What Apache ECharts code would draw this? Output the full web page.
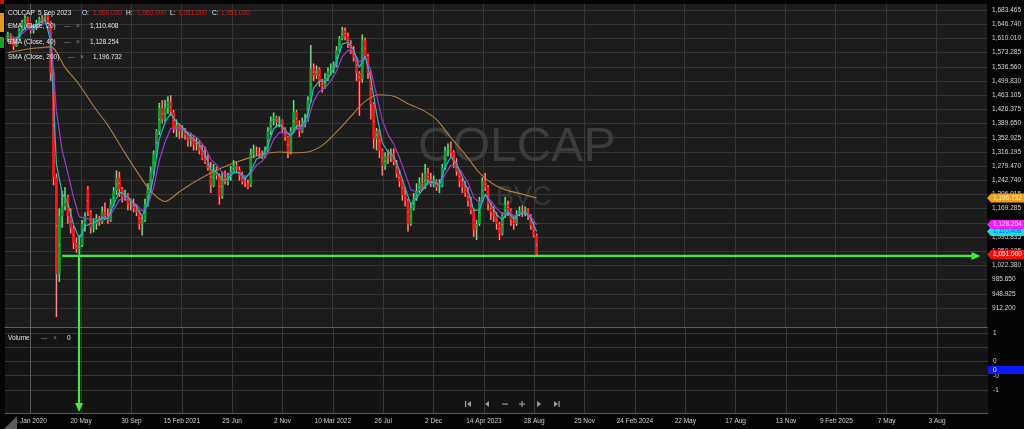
<!DOCTYPE html>
<html><head><meta charset="utf-8">
<script src="https://cdn.jsdelivr.net/npm/echarts@6/dist/echarts.min.js"></script>
<style>html,body{margin:0;padding:0;background:#050505;}#c{width:1024px;height:429px;}</style>
</head><body><div id="c"></div>
<script>
// ---- x axis: weeks relative to 1 Jan 2020 (tick spacing = ~88 bars = 17.6 weeks)
const tickWeeks = [0,17.6,35.2,52.8,70.4,88,105.6,123.2,140.8,158.4,176,193.6,211.2,228.8,246.4,264,281.6,299.2,316.8];
const tickLabels = ['1 Jan 2020','20 May','30 Sep','15 Feb 2021','25 Jun','2 Nov','10 Mar 2022','26 Jul','2 Dec','14 Apr 2023','28 Aug','25 Nov','24 Feb 2024','22 May','17 Aug','13 Nov','9 Feb 2025','7 May','3 Aug'];
const firstCandleWeek = -8;
// ---- price axis ticks
const priceTicks = [912.200,948.925,985.650,1022.380,1059.105,1095.835,1132.560,1169.285,1206.015,1242.740,1279.470,1316.195,1352.925,1389.650,1426.375,1463.105,1499.830,1536.560,1573.285,1610.010,1646.740,1683.465];
const volTicks = [1,0.5,0,-0.5,-1];
const volLabelValues = [1,0,-0.5,-1];
const volLabels = ['1','0','-0','-1'];
// ---- weekly candles
const candleOpen = [1610,1620,1605,1590,1608,1630,1652,1662,1648,1630,1640,1650,1660,1655,1670,1652,1520,1250,1000,1150,1175,1200,1150,1120,1080,1065,1075,1130,1220,1160,1120,1130,1145,1135,1160,1150,1140,1180,1215,1250,1220,1200,1205,1180,1185,1170,1160,1130,1140,1180,1220,1265,1310,1370,1430,1400,1430,1445,1420,1375,1385,1370,1375,1360,1345,1355,1335,1340,1320,1300,1290,1275,1230,1270,1255,1200,1250,1240,1250,1265,1280,1270,1255,1240,1235,1230,1310,1320,1315,1310,1305,1320,1370,1395,1405,1392,1398,1375,1355,1315,1370,1420,1385,1370,1395,1400,1450,1530,1515,1530,1500,1485,1505,1525,1530,1540,1580,1610,1630,1615,1595,1580,1560,1520,1505,1605,1565,1520,1440,1350,1370,1320,1280,1305,1300,1310,1290,1260,1240,1205,1190,1130,1170,1195,1215,1235,1225,1260,1245,1235,1240,1225,1230,1275,1320,1325,1315,1290,1265,1240,1225,1210,1190,1165,1115,1130,1190,1240,1225,1180,1160,1150,1130,1105,1150,1180,1165,1140,1130,1155,1165,1160,1165,1150,1125,1100];
const candleHigh = [1627,1623,1610,1614,1636,1658,1670,1666,1649,1645,1658,1666,1670,1675,1675,1655,1530,1260,1170,1215,1225,1205,1170,1125,1095,1100,1140,1160,1228,1165,1145,1155,1150,1175,1185,1170,1195,1225,1268,1265,1225,1218,1210,1195,1195,1180,1165,1150,1195,1235,1278,1320,1375,1443,1450,1451,1460,1463,1425,1400,1390,1385,1378,1368,1366,1360,1355,1345,1335,1330,1310,1290,1285,1278,1260,1265,1268,1262,1280,1295,1292,1278,1265,1255,1245,1325,1335,1330,1328,1320,1330,1380,1408,1418,1410,1408,1400,1380,1358,1380,1450,1425,1398,1405,1415,1460,1593,1545,1540,1535,1505,1520,1535,1545,1550,1590,1616,1640,1638,1625,1605,1590,1562,1525,1620,1612,1570,1525,1445,1378,1375,1325,1315,1322,1325,1325,1295,1270,1245,1225,1195,1185,1210,1235,1250,1262,1285,1275,1262,1255,1245,1245,1285,1330,1338,1343,1320,1300,1270,1250,1240,1225,1200,1170,1140,1200,1250,1262,1230,1185,1175,1160,1135,1160,1200,1190,1170,1150,1165,1175,1178,1175,1170,1155,1135,1105];
const candleLow = [1601,1597,1580,1588,1605,1628,1649,1640,1623,1623,1632,1645,1649,1653,1649,1500,1230,889,980,1120,1165,1130,1105,1065,1055,1050,1070,1110,1150,1105,1108,1115,1125,1130,1140,1130,1135,1175,1205,1200,1185,1190,1165,1165,1160,1150,1115,1100,1135,1175,1210,1255,1300,1360,1390,1395,1415,1410,1365,1355,1350,1352,1348,1330,1330,1320,1320,1310,1295,1285,1268,1210,1225,1245,1180,1195,1232,1230,1242,1260,1262,1242,1232,1225,1220,1225,1300,1305,1300,1298,1300,1315,1360,1385,1380,1380,1365,1345,1300,1310,1365,1375,1355,1365,1380,1395,1445,1500,1505,1485,1470,1480,1500,1515,1520,1535,1575,1605,1605,1585,1570,1550,1500,1410,1495,1555,1505,1400,1325,1320,1300,1255,1270,1285,1290,1282,1250,1225,1190,1175,1110,1125,1165,1190,1210,1215,1220,1235,1225,1225,1215,1210,1225,1270,1305,1300,1275,1255,1225,1210,1200,1175,1155,1097,1088,1125,1185,1215,1165,1140,1135,1115,1088,1100,1145,1150,1125,1115,1125,1150,1148,1150,1140,1115,1095,1048];
const candleClose = [1620,1605,1590,1608,1630,1652,1662,1648,1630,1640,1650,1660,1655,1670,1652,1520,1250,1000,1150,1175,1200,1150,1120,1080,1065,1075,1130,1150,1160,1120,1130,1145,1135,1160,1150,1140,1180,1215,1250,1220,1200,1205,1180,1185,1170,1160,1130,1140,1180,1220,1265,1310,1370,1430,1400,1430,1445,1420,1375,1385,1370,1375,1360,1345,1355,1335,1340,1320,1300,1290,1275,1230,1270,1255,1200,1250,1240,1250,1265,1280,1270,1255,1240,1235,1225,1310,1320,1315,1310,1305,1320,1370,1395,1405,1392,1398,1375,1355,1315,1370,1420,1385,1370,1395,1400,1450,1530,1515,1530,1500,1485,1505,1525,1530,1540,1580,1610,1630,1615,1595,1580,1560,1520,1500,1605,1565,1520,1440,1350,1370,1320,1280,1305,1300,1310,1290,1260,1240,1205,1190,1130,1170,1195,1215,1235,1225,1260,1245,1235,1240,1225,1230,1275,1320,1325,1315,1290,1265,1240,1225,1210,1190,1165,1115,1130,1190,1240,1225,1180,1160,1150,1130,1105,1150,1180,1165,1140,1130,1155,1165,1160,1165,1150,1125,1100,1051];
// ---- moving averages, EMAs every 2nd candle starting at candle 1, SMA every 5th candle
const ema20 = [1611,1605,1629,1644,1639,1650,1659,1603,1284,1210,1184,1128,1092,1124,1131,1136,1145,1144,1180,1212,1206,1192,1174,1150,1185,1253,1350,1393,1416,1394,1381,1362,1350,1336,1310,1270,1264,1243,1245,1264,1262,1246,1266,1298,1304,1333,1376,1388,1372,1358,1383,1385,1414,1481,1500,1498,1517,1547,1595,1600,1580,1535,1563,1505,1416,1340,1316,1305,1269,1223,1180,1197,1217,1238,1238,1232,1277,1303,1285,1251,1217,1165,1166,1207,1182,1154,1141,1160,1143,1155,1160,1144,1110.408];
const ema40 = [1617,1610,1622,1635,1635,1643,1651,1622,1421,1320,1262,1198,1148,1145,1142,1140,1144,1144,1166,1192,1196,1190,1180,1163,1179,1223,1294,1342,1377,1379,1377,1367,1358,1347,1327,1297,1283,1262,1255,1262,1262,1252,1260,1282,1292,1314,1348,1367,1366,1358,1375,1379,1399,1447,1473,1482,1500,1525,1563,1579,1575,1549,1562,1528,1463,1399,1361,1337,1302,1261,1218,1213,1220,1233,1235,1232,1258,1282,1280,1261,1237,1198,1185,1203,1190,1170,1155,1162,1151,1155,1158,1149,1128.254];
const sma200 = [1573,1580,1585,1588,1535,1490,1435,1385,1325,1267,1215,1188,1213,1237,1258,1275,1290,1302,1312,1316,1314,1316,1333,1368,1408,1447,1464,1460,1441,1425,1400,1353,1310,1262,1232,1216,1207,1196.732];
const lastClose = 1051.000;
const lastOHLC = ['1,060.000','1,060.000','1,051.000','1,051.000'];
// ---- green annotation
const supportLevel = 1047;
const supportFromWeek = 11;
const supportToWeek = 332.3;
const arrowWeek = 16.9;
const arrowToVol = -1.77;

const X_MIN = -8.99, X_MAX = 334.6, Y_MIN = 863.07, Y_MAX = 1698.99, V_MIN = -1.807, V_MAX = 1.175;
const RED = '#f01818', GREEN = '#169c36';
const FONT = 'Liberation Sans';
const FS = 6.5;

function fmtPrice(v){const s=v.toFixed(3).split('.');return s[0].replace(/\B(?=(\d{3})+(?!\d))/g,',')+'.'+s[1];}

const candles = candleOpen.map((o,i)=>[firstCandleWeek+i,o,candleClose[i],candleLow[i],candleHigh[i]]);
const ema20Data = ema20.map((v,j)=>[firstCandleWeek+Math.min(2*j+1,candleOpen.length-1),v]);
const ema40Data = ema40.map((v,j)=>[firstCandleWeek+Math.min(2*j+1,candleOpen.length-1),v]);
const smaData = sma200.map((v,j)=>[firstCandleWeek+5*j,v]);

const chart = echarts.init(document.getElementById('c'), null, {renderer:'canvas'});
const gridLine = {show:true, lineStyle:{color:'#363636', width:1}};
const option = {
  backgroundColor:'#050505',
  animation:false,
  textStyle:{fontFamily:FONT},
  grid:[
    {left:5, right:36, top:4, height:323, show:true, backgroundColor:'#1c1c1c', borderWidth:0, z:0},
    {left:5, right:36, top:328, height:85, show:true, backgroundColor:'#141414', borderWidth:0, z:0}
  ],
  xAxis:[
    {type:'value', gridIndex:0, min:X_MIN, max:X_MAX,
     axisLine:{show:true, onZero:false, lineStyle:{color:'#5c5c5c'}},
     axisTick:{show:false, customValues:tickWeeks}, axisLabel:{show:false, customValues:tickWeeks},
     splitLine:gridLine},
    {type:'value', gridIndex:1, min:X_MIN, max:X_MAX,
     axisLine:{show:true, onZero:false, lineStyle:{color:'#5c5c5c'}},
     axisTick:{show:false, customValues:tickWeeks},
     axisLabel:{show:true, customValues:tickWeeks, color:'#d0d0d0', fontSize:FS, margin:5, fontFamily:FONT,
       formatter:(v)=>{let k=0,b=1e9;tickWeeks.forEach((t,i)=>{if(Math.abs(t-v)<b){b=Math.abs(t-v);k=i;}});return tickLabels[k];}},
     splitLine:gridLine}
  ],
  yAxis:[
    {type:'value', gridIndex:0, position:'right', min:Y_MIN, max:Y_MAX,
     axisLine:{show:true, lineStyle:{color:'#5c5c5c'}},
     axisTick:{show:false, customValues:priceTicks},
     axisLabel:{customValues:priceTicks, color:'#d8d8d8', fontSize:FS, margin:5, fontFamily:FONT, formatter:(v)=>fmtPrice(v)},
     splitLine:gridLine},
    {type:'value', gridIndex:1, position:'right', min:V_MIN, max:V_MAX,
     axisLine:{show:true, lineStyle:{color:'#5c5c5c'}},
     axisTick:{show:false, customValues:volTicks},
     axisLabel:{customValues:volLabelValues, color:'#d8d8d8', fontSize:FS, margin:5, fontFamily:FONT,
       formatter:(v)=>{let k=0,b=1e9;volLabelValues.forEach((t,i)=>{if(Math.abs(t-v)<b){b=Math.abs(t-v);k=i;}});return volLabels[k];}},
     splitLine:gridLine}
  ],
  series:[
    {type:'custom', name:'COLCAP', xAxisIndex:0, yAxisIndex:0, data:candles, encode:{x:0,y:[1,2,3,4]}, z:3, clip:true,
     renderItem:(params, api)=>{
       const x=api.value(0), o=api.value(1), c=api.value(2), l=api.value(3), h=api.value(4);
       const pO=api.coord([x,o]), pC=api.coord([x,c]), pL=api.coord([x,l]), pH=api.coord([x,h]);
       const slot=api.size([1,0])[0];
       const w=slot*0.98, wr=slot*0.7;
       const top=Math.min(pO[1],pC[1]), bot=Math.max(pO[1],pC[1]);
       const cx=pO[0];
       const col=c>=o?GREEN:RED;
       return {type:'group', children:[
         {type:'rect', shape:{x:cx-wr/2, y:pH[1], width:wr, height:pL[1]-pH[1]}, style:{fill:col}},
         {type:'line', shape:{x1:cx,y1:pH[1],x2:cx,y2:pL[1]}, style:{stroke:'rgba(245,245,245,0.75)', lineWidth:0.8}},
         {type:'rect', shape:{x:cx-w/2, y:top, width:w, height:Math.max(1.5,bot-top)}, style:{fill:col}},
         {type:'rect', shape:{x:cx-0.4, y:(top+bot)/2-0.6, width:0.8, height:1.2}, style:{fill:'rgba(255,255,255,0.55)'}}
       ]};
     }},
    {type:'line', name:'SMA (Close, 200)', xAxisIndex:0, yAxisIndex:0, data:smaData, showSymbol:false, smooth:0.3, z:4,
     lineStyle:{color:'#b0803c', width:1.1}},
    {type:'line', name:'EMA (Close, 40)', xAxisIndex:0, yAxisIndex:0, data:ema40Data, showSymbol:false, z:5,
     lineStyle:{color:'#9a3ccc', width:1.2}},
    {type:'line', name:'EMA (Close, 20)', xAxisIndex:0, yAxisIndex:0, data:ema20Data, showSymbol:false, z:6,
     lineStyle:{color:'#22b8c8', width:1.2}},
    {type:'line', name:'Volume', xAxisIndex:1, yAxisIndex:1, data:[], showSymbol:false}
  ]
};
chart.setOption(option);

// ---- overlays positioned through the chart's own scales
const P = (w,v)=>chart.convertToPixel({xAxisIndex:0,yAxisIndex:0},[w,v]);
const PV = (w,v)=>chart.convertToPixel({xAxisIndex:1,yAxisIndex:1},[w,v]);
const g = [];
// watermark
g.push({type:'text', z:1, left:418, top:124, style:{text:'COLCAP', fill:'#3c3c3c', font:'48px "Liberation Sans"'}});
g.push({type:'text', z:1, left:496, top:184, style:{text:'BVC', fill:'#363636', font:'27px "Liberation Sans"'}});
// green annotation lines
const GL = '#3ef03e';
const a = P(supportFromWeek, supportLevel), b = P(supportToWeek, supportLevel);
g.push({type:'line', z:50, shape:{x1:a[0],y1:a[1],x2:b[0]-6,y2:b[1]}, style:{stroke:GL, lineWidth:2.2}});
g.push({type:'polygon', z:50, shape:{points:[[b[0],b[1]],[b[0]-9,b[1]-4],[b[0]-9,b[1]+4]]}, style:{fill:GL}});
const c1 = P(arrowWeek, supportLevel), c2 = PV(arrowWeek, arrowToVol);
g.push({type:'line', z:50, shape:{x1:c1[0],y1:c1[1],x2:c2[0],y2:c2[1]-6}, style:{stroke:GL, lineWidth:2.2}});
g.push({type:'polygon', z:50, shape:{points:[[c2[0],c2[1]],[c2[0]-4,c2[1]-9],[c2[0]+4,c2[1]-9]]}, style:{fill:GL}});
// price tags on the right axis
function tag(v, fill, txtColor){
  const y = P(0, v)[1]; const x0 = 987;
  g.push({type:'polygon', z:60, shape:{points:[[x0,y],[x0+4,y-4.5],[1024,y-4.5],[1024,y+4.5],[x0+4,y+4.5]]}, style:{fill:fill}});
  g.push({type:'text', z:61, x:993, y:y, style:{text:fmtPrice(v), fill:txtColor, font:FS+'px "Liberation Sans"', verticalAlign:'middle'}});
}
tag(sma200[sma200.length-1], '#f0a020', '#fff2d0');
tag(ema20[ema20.length-1], '#19dede', '#2050ff');
tag(ema40[ema40.length-1], '#ff1cff', '#ffe8ff');
tag(lastClose, '#ee1111', '#ffffff');
// volume value box
const vb = PV(0, -0.3)[1];
g.push({type:'rect', z:60, shape:{x:988,y:vb-4,width:36,height:8}, style:{fill:'#0a18ff'}});
g.push({type:'text', z:61, x:993, y:vb, style:{text:'0', fill:'#ffffff', font:FS+'px "Liberation Sans"', verticalAlign:'middle'}});
// legend rows
const TF = FS+'px "Liberation Sans"';
function t(x,y,s,col){g.push({type:'text', z:70, x:x, y:y, style:{text:s, fill:col||'#e6e6e6', font:TF, verticalAlign:'middle'}});}
t(8,13,'COLCAP'); t(38,13,'5 Sep 2023');
t(82,13,'O:'); t(93,13,lastOHLC[0],'#e01818');
t(126,13,'H:'); t(137,13,lastOHLC[1],'#e01818');
t(170,13,'L:'); t(178,13,lastOHLC[2],'#e01818');
t(212,13,'C:'); t(221,13,lastOHLC[3],'#e01818');
t(8,26,'EMA (Close, 20)'); t(64,26,'—','#8a8a8a'); t(76,26,'×','#8a8a8a'); t(90,26,fmtPrice(ema20[ema20.length-1]));
t(8,42,'EMA (Close, 40)'); t(64,42,'—','#8a8a8a'); t(76,42,'×','#8a8a8a'); t(90,42,fmtPrice(ema40[ema40.length-1]));
t(8,57,'SMA (Close, 200)'); t(68,57,'—','#8a8a8a'); t(80,57,'×','#8a8a8a'); t(93,57,fmtPrice(sma200[sma200.length-1]));
t(8,338,'Volume'); t(41,338,'—','#8a8a8a'); t(53,338,'×','#8a8a8a'); t(67,338,'0');
// left strip markers
g.push({type:'rect', z:70, shape:{x:0,y:0,width:4,height:4}, style:{fill:'#d01010'}});
g.push({type:'rect', z:70, shape:{x:0,y:13,width:4,height:19}, style:{fill:'#e09a20'}});
g.push({type:'rect', z:70, shape:{x:0,y:37,width:4,height:11}, style:{fill:'#20a020'}});
// bottom navigation buttons
const NC = '#9a9a9a';
g.push({type:'rect', z:70, shape:{x:465,y:401,width:1.2,height:6}, style:{fill:NC}});
g.push({type:'polygon', z:70, shape:{points:[[471,401],[471,407],[467,404]]}, style:{fill:NC}});
g.push({type:'polygon', z:70, shape:{points:[[489,401],[489,407],[485,404]]}, style:{fill:NC}});
g.push({type:'rect', z:70, shape:{x:502,y:403.5,width:6,height:1.2}, style:{fill:NC}});
g.push({type:'rect', z:70, shape:{x:519,y:403.5,width:6,height:1.2}, style:{fill:NC}});
g.push({type:'rect', z:70, shape:{x:521.4,y:401,width:1.2,height:6}, style:{fill:NC}});
g.push({type:'polygon', z:70, shape:{points:[[537,401],[537,407],[541,404]]}, style:{fill:NC}});
g.push({type:'polygon', z:70, shape:{points:[[554,401],[554,407],[558,404]]}, style:{fill:NC}});
g.push({type:'rect', z:70, shape:{x:558.5,y:401,width:1.2,height:6}, style:{fill:NC}});
// resize corner
g.push({type:'polygon', z:70, shape:{points:[[4,429],[17,429],[17,416]]}, style:{fill:'#5a5a5a'}});
chart.setOption({graphic:{elements:g}});
</script></body></html>
